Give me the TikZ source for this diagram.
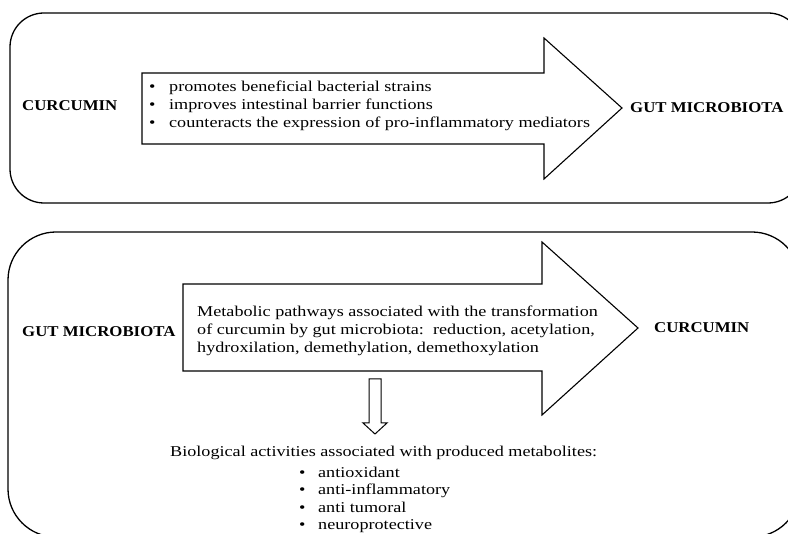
\documentclass[tikz,border=0pt]{standalone}
\usepackage{fontspec}
\setmainfont{Liberation Serif}[FakeStretch=1.21]
\newfontfamily\tagfont{Liberation Serif}[FakeStretch=1.12]
\usetikzlibrary{positioning}
\tikzset{
  panel/.style={draw,line width=1.3pt,rounded corners=34pt},
  bigarrow/.style={draw,line width=1.1pt},
  tag/.style={font=\fontsize{15}{18}\selectfont\tagfont\bfseries,inner sep=0pt,anchor=base west},
  body/.style={font=\fontsize{15}{18}\selectfont,inner sep=0pt,anchor=base west}
}
\newcommand{\bul}{\makebox[20pt][l]{\textbullet}}
\newcommand{\bulb}{\makebox[19pt][l]{\textbullet}}

\begin{document}
\begin{tikzpicture}[x=1pt,y=-1pt]
    \useasboundingbox (0,0) rectangle (788,534);
    % curcumin -> microbiota
    \draw[panel] (10,13) rectangle (802,203);
    \draw[bigarrow] (142,73) -- (544,73) -- (544,38) -- (622,108) -- (544,179) -- (544,144) -- (142,144) -- cycle;
    \node[tag] (cur1) at (22,111) {CURCUMIN};
    \foreach \txt [count=\i] in {promotes beneficial bacterial strains,
        improves intestinal barrier functions,
        counteracts the expression of pro-inflammatory mediators}
        \node[body] (eff\i) at (149,{74+18*\i}) {\bul \txt};
    \node[tag] (gut1) at (630,113) {GUT MICROBIOTA};
    % microbiota -> curcumin
    \draw[panel,rounded corners=48pt] (8,232) rectangle (800,537);
    \draw[bigarrow] (183,284) -- (542,284) -- (542,242) -- (638,328) -- (542,415) -- (542,371) -- (183,371) -- cycle;
    \node[tag] (gut2) at (22,337) {GUT MICROBIOTA};
    \foreach \txt [count=\i] in {Metabolic pathways associated with the transformation,
        {of curcumin by gut microbiota:\ \ reduction, acetylation,},
        {hydroxilation, demethylation, demethoxylation}}
        \node[body] (path\i) at (197,{299+17.7*\i}) {\txt};
    \node[tag] (cur2) at (654,333) {CURCUMIN};
    \draw[bigarrow,line width=1pt] (369,379) -- (381,379) -- (381,423) -- (387,423) -- (375,434) -- (363,423) -- (369,423) -- cycle;
    \node[body] (bio) at (170,457) {Biological activities associated with produced metabolites:};
    \foreach \txt [count=\i] in {antioxidant, anti-inflammatory, anti tumoral, neuroprotective}
        \node[body] (act\i) at (299,{459.5+17.6*\i}) {\bulb \txt};
\end{tikzpicture}
\end{document}
